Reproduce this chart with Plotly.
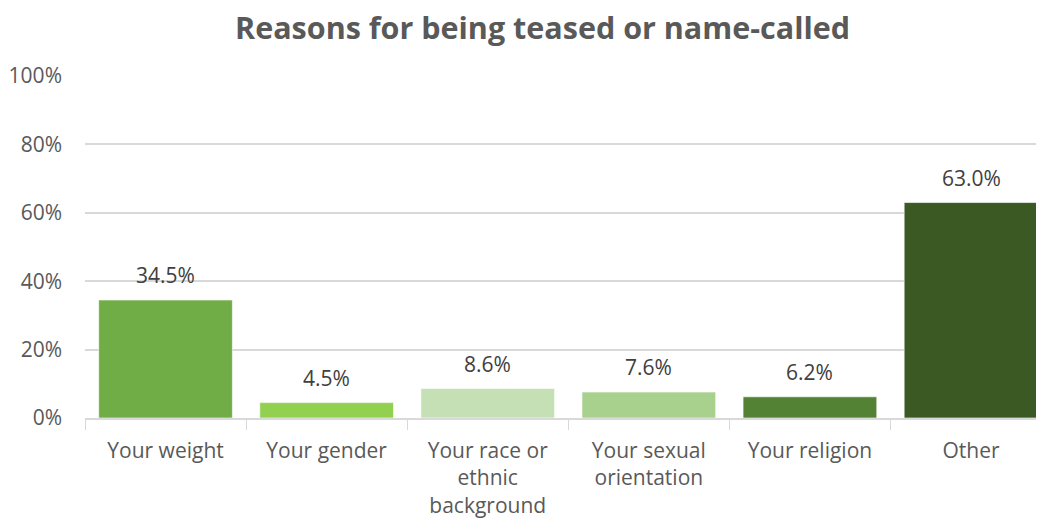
import plotly.graph_objects as go

categories = ["Your weight", "Your gender", "Your race or<br>ethnic<br>background",
              "Your sexual<br>orientation", "Your religion", "Other"]
values = [34.5, 4.5, 8.6, 7.6, 6.2, 63.0]
labels = ["34.5%", "4.5%", "8.6%", "7.6%", "6.2%", "63.0%"]
colors = ["#70AD47", "#92D050", "#C5E0B4", "#A9D18E", "#548235", "#3B5A23"]
y_ticks = [0, 20, 40, 60, 80, 100]
y_ticktext = ["0%", "20%", "40%", "60%", "80%", "100%"]

FONT = "Open Sans"

fig = go.Figure()
fig.add_trace(go.Bar(
    x=categories, y=values, width=0.83,
    marker=dict(color=colors, line=dict(color="rgba(255,255,255,0.6)", width=1)),
    hoverinfo="skip",
))

for c, v, t in zip(categories, values, labels):
    fig.add_annotation(x=c, y=v, text=t, showarrow=False, xref="x", yref="y",
                       yanchor="bottom", yshift=9,
                       font=dict(family=FONT, size=21, color="#404040"))

H = 511
fig.update_layout(
    width=1036, height=H,
    margin=dict(l=77, r=0, t=68, b=101),
    paper_bgcolor="white", plot_bgcolor="white",
    showlegend=False,
    title=dict(text="<b>Reasons for being teased or name-called</b>",
               x=0.516, xanchor="center", y=1 - 20 / H, yanchor="middle",
               yref="container",
               font=dict(family=FONT, size=30.5, color="#595959")),
    xaxis=dict(range=[-0.5, 5.453], tickson="boundaries", ticks="outside",
               ticklen=10, tickcolor="#D9D9D9", showline=True,
               linecolor="#D9D9D9", linewidth=1.5, showgrid=False,
               ticklabelstandoff=13,
               tickfont=dict(family=FONT, size=21, color="#595959")),
    yaxis=dict(range=[0, 100], tickvals=y_ticks, ticktext=y_ticktext,
               showgrid=True, gridcolor="#D9D9D9", gridwidth=1.5,
               zeroline=False, showline=False, ticks="",
               ticklabelstandoff=22,
               tickfont=dict(family=FONT, size=21, color="#595959")),
)

fig.write_html("out.html")
